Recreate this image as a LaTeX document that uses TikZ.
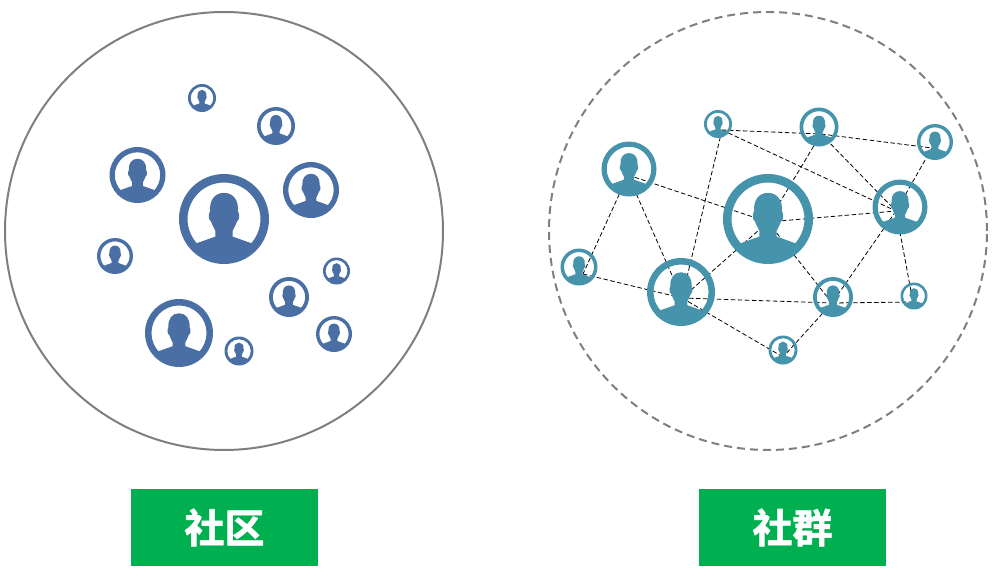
\documentclass[tikz,border=0pt]{standalone}
\usepackage{fontspec}
\newfontfamily\cjk[BoldFont={Noto Sans CJK SC Bold},BoldFeatures={FakeBold=1.5}]{Noto Sans CJK SC}
\definecolor{cblue}{HTML}{4A6FA5}
\definecolor{cteal}{HTML}{4694AC}
\definecolor{cgreen}{HTML}{00B050}
\definecolor{cring}{HTML}{7F7F7F}
\tikzset{
  anchorpt/.style={circle,inner sep=0pt,minimum size=2pt},
  bigring/.style={draw=cring,line width=2pt,circle,inner sep=0pt,minimum size=438pt},
  dashring/.style={bigring,dash pattern=on 8pt off 5pt},
  link/.style={black,line width=.8pt,dash pattern=on 4.5pt off 2.5pt},
  tag/.style={fill=cgreen,text=white,minimum width=187pt,minimum height=77pt,inner sep=0pt,font=\cjk\bfseries\fontsize{40pt}{44pt}\selectfont},
  pics/person/.style={code={
    \begin{scope}[x=#1pt,y=#1pt]
      \fill[even odd rule] (0,0) circle[radius=1] (0,0) circle[radius=.81];
      \fill (-.64,-.55) -- (-.19,-.39) -- (-.19,-.27)
        .. controls (-.22,-.2) and (-.27,-.12) .. (-.29,-.05)
        .. controls (-.35,-.03) and (-.35,.12) .. (-.31,.17)
        .. controls (-.33,.42) and (-.2,.58) .. (0,.58)
        .. controls (.2,.58) and (.33,.42) .. (.31,.17)
        .. controls (.35,.12) and (.35,-.03) .. (.29,-.05)
        .. controls (.27,-.12) and (.22,-.2) .. (.19,-.27)
        -- (.19,-.39) -- (.64,-.55)
        arc[start angle=-40.7,end angle=-139.3,radius=.85] -- cycle;
    \end{scope}
  }}
}
\begin{document}
\begin{tikzpicture}[x=1pt,y=-1pt]
\useasboundingbox (0,0) rectangle (1005,581);
\node[bigring] (comm) at (224,231) {};
\node[dashring] (group) at (768,231) {};
\node[tag] (tagA) at (224.5,527.5) {社区};
\node[tag] (tagB) at (792.5,527.5) {社群};
% left icons
\foreach \n/\x/\y/\r in {a0/224/219/45,a1/137.5/175/28,a2/311/190/28,a3/179/333/34,a4/276/126/19,a5/202/98/14,a6/115/256/18,a7/289/297/20,a8/336.5/271/13.5,a9/334/334/18,a10/239/351/14.5}
  {\node[anchorpt] (\n) at (\x,\y) {}; \pic[cblue] at (\n) {person=\r};}
% points where the links of each right-hand person meet
\foreach \n/\x/\y in {b0/768/222,b1/628/175,b2/722/130,b3/821/134,b4/932/148,b5/896/211,b6/583/274,b7/682/298,b8/832/303,b9/913/302,b10/783/357}
  \node[anchorpt] (\n) at (\x,\y) {};
\foreach \p/\q in {b1/b0,b1/b6,b1/b7,b2/b3,b2/b5,b2/b7,b3/b4,b3/b0,b3/b5,b4/b5,b0/b5,b0/b7,b0/b8,b5/b8,b5/b9,b6/b7,b7/b8,b7/b10,b8/b9,b8/b10}
  \draw[link] (\p.center) -- (\q.center);
\foreach \n/\x/\y/\r in {c0/768/219/45,c1/629/169/27.5,c2/718/124/14,c3/819/127/19.5,c4/935/142/18,c5/900/207/27.5,c6/579/267/18.5,c7/681/292/34,c8/833/297/20,c9/914/296/13.5,c10/783/350/14.5}
  {\node[anchorpt] (\n) at (\x,\y) {}; \pic[cteal] at (\n) {person=\r};}
\end{tikzpicture}
\end{document}
